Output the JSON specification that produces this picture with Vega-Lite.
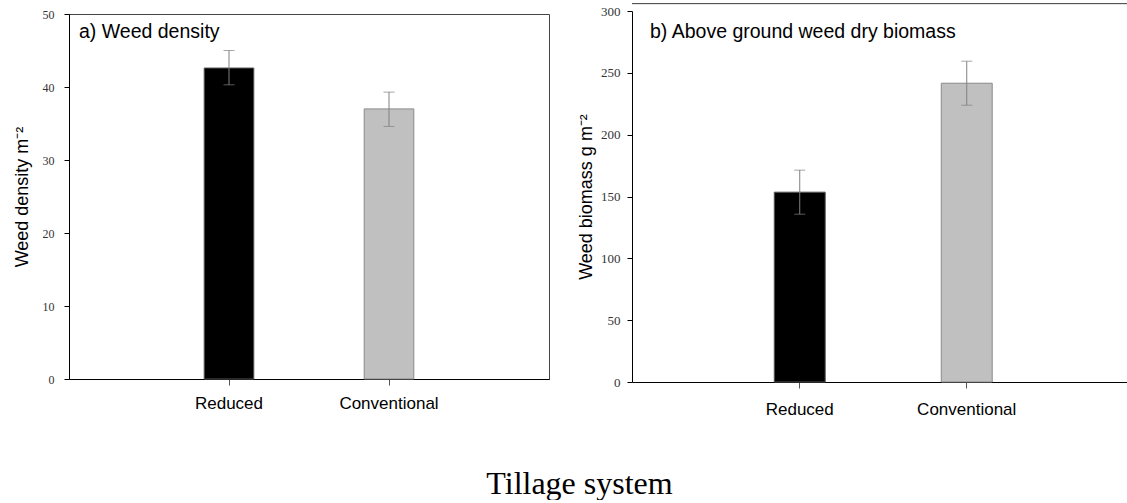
{
  "$schema": "https://vega.github.io/schema/vega-lite/v6.json",
  "background": "white",
  "padding": {"left": 12, "top": 3, "right": 0, "bottom": 0},
  "config": {
    "font": "Liberation Sans",
    "view": {"stroke": null},
    "axis": {"grid": false}
  },
  "title": {
    "text": "Tillage system",
    "orient": "bottom",
    "anchor": "middle",
    "font": "Liberation Serif",
    "fontSize": 32,
    "fontWeight": "normal",
    "color": "black",
    "baseline": "alphabetic",
    "offset": 77,
    "dx": 9
  },
  "spacing": 83,
  "bounds": "flush",
  "center": true,
  "hconcat": [
    {
      "width": 480,
      "height": 365,
      "view": {"stroke": "#444", "strokeWidth": 1},
      "title": {
        "text": "a) Weed density",
        "anchor": "start",
        "frame": "group",
        "font": "Liberation Sans",
        "fontSize": 19.5,
        "fontWeight": "normal",
        "color": "black",
        "baseline": "alphabetic",
        "offset": 0,
        "dx": 10,
        "dy": 49
      },
      "data": {"values": [
        {"tillage": "Reduced", "density": 42.6, "lo": 40.3, "hi": 45.0},
        {"tillage": "Conventional", "density": 37.0, "lo": 34.6, "hi": 39.3}
      ]},
      "encoding": {
        "x": {
          "field": "tillage", "type": "nominal", "sort": ["Reduced", "Conventional"],
          "scale": {"paddingInner": 0, "paddingOuter": 0.5},
          "axis": {"title": null, "labelAngle": 0, "labelFont": "Liberation Sans", "labelFontSize": 17, "labelColor": "black", "tickSize": 6, "tickColor": "#555", "domainColor": "black", "labelPadding": 10, "bandPosition": 0.5}
        }
      },
      "layer": [
        {
          "mark": {"type": "bar", "width": {"band": 0.31}, "strokeWidth": 1},
          "encoding": {
            "y": {
              "field": "density", "type": "quantitative",
              "scale": {"domain": [0, 50]},
              "axis": {"title": "Weed density m⁻²", "titleFont": "Liberation Sans", "titleFontSize": 18, "titleFontWeight": "normal", "titleColor": "black", "labelFont": "Liberation Serif", "labelFontSize": 12, "labelColor": "#333", "tickSize": 5, "tickColor": "black", "domainColor": "black", "labelPadding": 10, "titlePadding": 11, "values": [0, 10, 20, 30, 40, 50]}
            },
            "color": {"field": "tillage", "type": "nominal", "scale": {"domain": ["Reduced", "Conventional"], "range": ["#000000", "#c0c0c0"]}, "legend": null},
            "stroke": {"field": "tillage", "type": "nominal", "scale": {"domain": ["Reduced", "Conventional"], "range": ["#555555", "#8a8a8a"]}, "legend": null}
          }
        },
        {
          "mark": {"type": "rule", "color": "#808080", "strokeWidth": 1},
          "encoding": {"y": {"field": "lo", "type": "quantitative"}, "y2": {"field": "hi"}}
        },
        {
          "mark": {"type": "tick", "orient": "horizontal", "size": 11, "thickness": 1, "color": "#808080"},
          "encoding": {"y": {"field": "hi", "type": "quantitative"}}
        },
        {
          "mark": {"type": "tick", "orient": "horizontal", "size": 11, "thickness": 1, "color": "#808080"},
          "encoding": {"y": {"field": "lo", "type": "quantitative"}}
        }
      ]
    },
    {
      "width": 496,
      "height": 371,
      "title": {
        "text": "b) Above ground weed dry biomass",
        "anchor": "start",
        "frame": "group",
        "font": "Liberation Sans",
        "fontSize": 19.5,
        "fontWeight": "normal",
        "color": "black",
        "baseline": "alphabetic",
        "offset": 0,
        "dx": 18,
        "dy": 54
      },
      "data": {"values": [
        {"tillage": "Reduced", "biomass": 153.5, "lo": 135.7, "hi": 171.3},
        {"tillage": "Conventional", "biomass": 241.6, "lo": 223.8, "hi": 259.4}
      ]},
      "layer": [
        {
          "mark": {"type": "rule", "color": "#555", "strokeWidth": 1},
          "encoding": {"y": {"datum": 306, "type": "quantitative"}}
        },
        {
          "encoding": {
            "x": {
              "field": "tillage", "type": "nominal", "sort": ["Reduced", "Conventional"],
              "scale": {"paddingInner": 0, "paddingOuter": 0.485, "align": 0.52},
              "axis": {"title": null, "labelAngle": 0, "labelFont": "Liberation Sans", "labelFontSize": 17, "labelColor": "black", "tickSize": 6, "tickColor": "#555", "domainColor": "black", "labelPadding": 13, "bandPosition": 0.5}
            }
          },
          "layer": [
            {
              "mark": {"type": "bar", "width": {"band": 0.305}, "strokeWidth": 1},
              "encoding": {
                "y": {
                  "field": "biomass", "type": "quantitative",
                  "scale": {"domain": [0, 300]},
                  "axis": {"title": "Weed biomass g m⁻²", "titleFont": "Liberation Sans", "titleFontSize": 18, "titleFontWeight": "normal", "titleColor": "black", "labelFont": "Liberation Serif", "labelFontSize": 13, "labelColor": "#333", "tickSize": 5, "tickColor": "black", "domainColor": "black", "labelPadding": 7, "titlePadding": 5, "values": [0, 50, 100, 150, 200, 250, 300]}
                },
                "color": {"field": "tillage", "type": "nominal", "scale": {"domain": ["Reduced", "Conventional"], "range": ["#000000", "#c0c0c0"]}, "legend": null},
                "stroke": {"field": "tillage", "type": "nominal", "scale": {"domain": ["Reduced", "Conventional"], "range": ["#555555", "#8a8a8a"]}, "legend": null}
              }
            },
            {
              "mark": {"type": "rule", "color": "#808080", "strokeWidth": 1},
              "encoding": {"y": {"field": "lo", "type": "quantitative"}, "y2": {"field": "hi"}}
            },
            {
              "mark": {"type": "tick", "orient": "horizontal", "size": 11, "thickness": 1, "color": "#808080"},
              "encoding": {"y": {"field": "hi", "type": "quantitative"}}
            },
            {
              "mark": {"type": "tick", "orient": "horizontal", "size": 11, "thickness": 1, "color": "#808080"},
              "encoding": {"y": {"field": "lo", "type": "quantitative"}}
            }
          ]
        }
      ]
    }
  ]
}
